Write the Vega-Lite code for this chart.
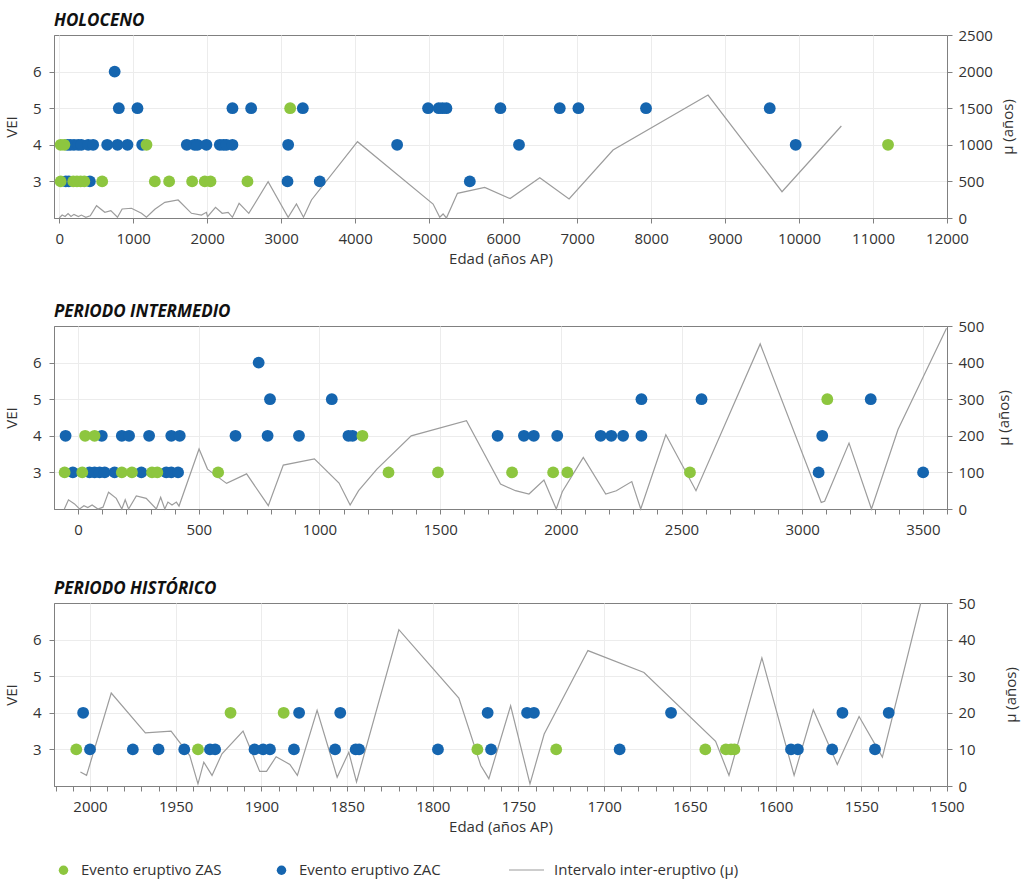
{
"$schema": "https://vega.github.io/schema/vega-lite/v6.json",
"padding": {"left": 3, "top": 11, "right": 5, "bottom": 5},
"config": {
  "font": "Open Sans",
  "view": {"stroke": "#808080", "strokeWidth": 1},
  "axis": {"labelFont": "Open Sans", "labelFontSize": 15, "labelColor": "#333333", "titleFont": "Open Sans", "titleFontSize": 15, "titleFontWeight": "normal", "titleColor": "#333333", "domainColor": "#808080", "tickColor": "#808080", "gridColor": "#ececec", "tickSize": 5, "labelPadding": 5, "labelOverlap": false, "format": "d"},
  "axisX": {"labelPadding": 8, "titlePadding": 5, "labelFlush": false},
  "title": {"font": "Open Sans", "fontSize": 17, "fontStyle": "italic", "fontWeight": "bold", "anchor": "start", "frame": "group", "color": "#111111", "offset": -1.5},
  "legend": {"labelFont": "Open Sans", "labelFontSize": 15, "labelColor": "#333333", "labelLimit": 400}
},
"datasets": {
  "h_pts": [
    {"edad": 750, "vei": 6, "tipo": "Evento eruptivo ZAC"},
    {"edad": 806, "vei": 5, "tipo": "Evento eruptivo ZAC"},
    {"edad": 1058, "vei": 5, "tipo": "Evento eruptivo ZAC"},
    {"edad": 2342, "vei": 5, "tipo": "Evento eruptivo ZAC"},
    {"edad": 2595, "vei": 5, "tipo": "Evento eruptivo ZAC"},
    {"edad": 3293, "vei": 5, "tipo": "Evento eruptivo ZAC"},
    {"edad": 4986, "vei": 5, "tipo": "Evento eruptivo ZAC"},
    {"edad": 5130, "vei": 5, "tipo": "Evento eruptivo ZAC"},
    {"edad": 5180, "vei": 5, "tipo": "Evento eruptivo ZAC"},
    {"edad": 5234, "vei": 5, "tipo": "Evento eruptivo ZAC"},
    {"edad": 5964, "vei": 5, "tipo": "Evento eruptivo ZAC"},
    {"edad": 6766, "vei": 5, "tipo": "Evento eruptivo ZAC"},
    {"edad": 7018, "vei": 5, "tipo": "Evento eruptivo ZAC"},
    {"edad": 7932, "vei": 5, "tipo": "Evento eruptivo ZAC"},
    {"edad": 9604, "vei": 5, "tipo": "Evento eruptivo ZAC"},
    {"edad": 110, "vei": 4, "tipo": "Evento eruptivo ZAC"},
    {"edad": 150, "vei": 4, "tipo": "Evento eruptivo ZAC"},
    {"edad": 200, "vei": 4, "tipo": "Evento eruptivo ZAC"},
    {"edad": 257, "vei": 4, "tipo": "Evento eruptivo ZAC"},
    {"edad": 300, "vei": 4, "tipo": "Evento eruptivo ZAC"},
    {"edad": 392, "vei": 4, "tipo": "Evento eruptivo ZAC"},
    {"edad": 459, "vei": 4, "tipo": "Evento eruptivo ZAC"},
    {"edad": 649, "vei": 4, "tipo": "Evento eruptivo ZAC"},
    {"edad": 788, "vei": 4, "tipo": "Evento eruptivo ZAC"},
    {"edad": 923, "vei": 4, "tipo": "Evento eruptivo ZAC"},
    {"edad": 1122, "vei": 4, "tipo": "Evento eruptivo ZAC"},
    {"edad": 1725, "vei": 4, "tipo": "Evento eruptivo ZAC"},
    {"edad": 1830, "vei": 4, "tipo": "Evento eruptivo ZAC"},
    {"edad": 1869, "vei": 4, "tipo": "Evento eruptivo ZAC"},
    {"edad": 1990, "vei": 4, "tipo": "Evento eruptivo ZAC"},
    {"edad": 2171, "vei": 4, "tipo": "Evento eruptivo ZAC"},
    {"edad": 2220, "vei": 4, "tipo": "Evento eruptivo ZAC"},
    {"edad": 2261, "vei": 4, "tipo": "Evento eruptivo ZAC"},
    {"edad": 2342, "vei": 4, "tipo": "Evento eruptivo ZAC"},
    {"edad": 3095, "vei": 4, "tipo": "Evento eruptivo ZAC"},
    {"edad": 4568, "vei": 4, "tipo": "Evento eruptivo ZAC"},
    {"edad": 6215, "vei": 4, "tipo": "Evento eruptivo ZAC"},
    {"edad": 9955, "vei": 4, "tipo": "Evento eruptivo ZAC"},
    {"edad": 90, "vei": 3, "tipo": "Evento eruptivo ZAC"},
    {"edad": 130, "vei": 3, "tipo": "Evento eruptivo ZAC"},
    {"edad": 415, "vei": 3, "tipo": "Evento eruptivo ZAC"},
    {"edad": 3086, "vei": 3, "tipo": "Evento eruptivo ZAC"},
    {"edad": 3522, "vei": 3, "tipo": "Evento eruptivo ZAC"},
    {"edad": 5550, "vei": 3, "tipo": "Evento eruptivo ZAC"},
    {"edad": 3122, "vei": 5, "tipo": "Evento eruptivo ZAS"},
    {"edad": 20, "vei": 4, "tipo": "Evento eruptivo ZAS"},
    {"edad": 70, "vei": 4, "tipo": "Evento eruptivo ZAS"},
    {"edad": 1180, "vei": 4, "tipo": "Evento eruptivo ZAS"},
    {"edad": 11203, "vei": 4, "tipo": "Evento eruptivo ZAS"},
    {"edad": 20, "vei": 3, "tipo": "Evento eruptivo ZAS"},
    {"edad": 190, "vei": 3, "tipo": "Evento eruptivo ZAS"},
    {"edad": 240, "vei": 3, "tipo": "Evento eruptivo ZAS"},
    {"edad": 290, "vei": 3, "tipo": "Evento eruptivo ZAS"},
    {"edad": 340, "vei": 3, "tipo": "Evento eruptivo ZAS"},
    {"edad": 581, "vei": 3, "tipo": "Evento eruptivo ZAS"},
    {"edad": 1293, "vei": 3, "tipo": "Evento eruptivo ZAS"},
    {"edad": 1486, "vei": 3, "tipo": "Evento eruptivo ZAS"},
    {"edad": 1797, "vei": 3, "tipo": "Evento eruptivo ZAS"},
    {"edad": 1968, "vei": 3, "tipo": "Evento eruptivo ZAS"},
    {"edad": 2045, "vei": 3, "tipo": "Evento eruptivo ZAS"},
    {"edad": 2545, "vei": 3, "tipo": "Evento eruptivo ZAS"}
  ],
  "h_mu": [
    {"edad": 0, "mu": 0}, {"edad": 40, "mu": 40}, {"edad": 80, "mu": 20}, {"edad": 120, "mu": 60},
    {"edad": 160, "mu": 20}, {"edad": 200, "mu": 50}, {"edad": 260, "mu": 20}, {"edad": 300, "mu": 40},
    {"edad": 360, "mu": 10}, {"edad": 420, "mu": 30}, {"edad": 505, "mu": 168}, {"edad": 617, "mu": 78},
    {"edad": 698, "mu": 100}, {"edad": 788, "mu": 10}, {"edad": 851, "mu": 123}, {"edad": 977, "mu": 133},
    {"edad": 1112, "mu": 64}, {"edad": 1180, "mu": 10}, {"edad": 1293, "mu": 119}, {"edad": 1428, "mu": 214},
    {"edad": 1608, "mu": 246}, {"edad": 1788, "mu": 64}, {"edad": 1923, "mu": 41}, {"edad": 1990, "mu": 78},
    {"edad": 2005, "mu": 18}, {"edad": 2113, "mu": 146}, {"edad": 2203, "mu": 64}, {"edad": 2284, "mu": 78},
    {"edad": 2342, "mu": 10}, {"edad": 2432, "mu": 200}, {"edad": 2563, "mu": 64}, {"edad": 2824, "mu": 496},
    {"edad": 3095, "mu": 10}, {"edad": 3207, "mu": 191}, {"edad": 3302, "mu": 10}, {"edad": 3410, "mu": 246},
    {"edad": 4032, "mu": 1042}, {"edad": 5054, "mu": 191}, {"edad": 5144, "mu": 10}, {"edad": 5189, "mu": 55},
    {"edad": 5234, "mu": 0}, {"edad": 5383, "mu": 337}, {"edad": 5752, "mu": 419}, {"edad": 6095, "mu": 265},
    {"edad": 6496, "mu": 551}, {"edad": 6892, "mu": 260}, {"edad": 7486, "mu": 929}, {"edad": 8770, "mu": 1680},
    {"edad": 9770, "mu": 359}, {"edad": 10572, "mu": 1257}
  ],
  "i_pts": [
    {"edad": 748, "vei": 6, "tipo": "Evento eruptivo ZAC"},
    {"edad": 795, "vei": 5, "tipo": "Evento eruptivo ZAC"},
    {"edad": 1051, "vei": 5, "tipo": "Evento eruptivo ZAC"},
    {"edad": 2334, "vei": 5, "tipo": "Evento eruptivo ZAC"},
    {"edad": 2583, "vei": 5, "tipo": "Evento eruptivo ZAC"},
    {"edad": 3284, "vei": 5, "tipo": "Evento eruptivo ZAC"},
    {"edad": -52, "vei": 4, "tipo": "Evento eruptivo ZAC"},
    {"edad": 98, "vei": 4, "tipo": "Evento eruptivo ZAC"},
    {"edad": 181, "vei": 4, "tipo": "Evento eruptivo ZAC"},
    {"edad": 211, "vei": 4, "tipo": "Evento eruptivo ZAC"},
    {"edad": 294, "vei": 4, "tipo": "Evento eruptivo ZAC"},
    {"edad": 386, "vei": 4, "tipo": "Evento eruptivo ZAC"},
    {"edad": 421, "vei": 4, "tipo": "Evento eruptivo ZAC"},
    {"edad": 652, "vei": 4, "tipo": "Evento eruptivo ZAC"},
    {"edad": 785, "vei": 4, "tipo": "Evento eruptivo ZAC"},
    {"edad": 915, "vei": 4, "tipo": "Evento eruptivo ZAC"},
    {"edad": 1120, "vei": 4, "tipo": "Evento eruptivo ZAC"},
    {"edad": 1137, "vei": 4, "tipo": "Evento eruptivo ZAC"},
    {"edad": 1738, "vei": 4, "tipo": "Evento eruptivo ZAC"},
    {"edad": 1847, "vei": 4, "tipo": "Evento eruptivo ZAC"},
    {"edad": 1888, "vei": 4, "tipo": "Evento eruptivo ZAC"},
    {"edad": 1985, "vei": 4, "tipo": "Evento eruptivo ZAC"},
    {"edad": 2165, "vei": 4, "tipo": "Evento eruptivo ZAC"},
    {"edad": 2209, "vei": 4, "tipo": "Evento eruptivo ZAC"},
    {"edad": 2258, "vei": 4, "tipo": "Evento eruptivo ZAC"},
    {"edad": 2334, "vei": 4, "tipo": "Evento eruptivo ZAC"},
    {"edad": 3083, "vei": 4, "tipo": "Evento eruptivo ZAC"},
    {"edad": -22, "vei": 3, "tipo": "Evento eruptivo ZAC"},
    {"edad": 47, "vei": 3, "tipo": "Evento eruptivo ZAC"},
    {"edad": 68, "vei": 3, "tipo": "Evento eruptivo ZAC"},
    {"edad": 89, "vei": 3, "tipo": "Evento eruptivo ZAC"},
    {"edad": 110, "vei": 3, "tipo": "Evento eruptivo ZAC"},
    {"edad": 151, "vei": 3, "tipo": "Evento eruptivo ZAC"},
    {"edad": 262, "vei": 3, "tipo": "Evento eruptivo ZAC"},
    {"edad": 365, "vei": 3, "tipo": "Evento eruptivo ZAC"},
    {"edad": 386, "vei": 3, "tipo": "Evento eruptivo ZAC"},
    {"edad": 414, "vei": 3, "tipo": "Evento eruptivo ZAC"},
    {"edad": 3068, "vei": 3, "tipo": "Evento eruptivo ZAC"},
    {"edad": 3501, "vei": 3, "tipo": "Evento eruptivo ZAC"},
    {"edad": 3104, "vei": 5, "tipo": "Evento eruptivo ZAS"},
    {"edad": 29, "vei": 4, "tipo": "Evento eruptivo ZAS"},
    {"edad": 68, "vei": 4, "tipo": "Evento eruptivo ZAS"},
    {"edad": 1178, "vei": 4, "tipo": "Evento eruptivo ZAS"},
    {"edad": -56, "vei": 3, "tipo": "Evento eruptivo ZAS"},
    {"edad": 17, "vei": 3, "tipo": "Evento eruptivo ZAS"},
    {"edad": 181, "vei": 3, "tipo": "Evento eruptivo ZAS"},
    {"edad": 223, "vei": 3, "tipo": "Evento eruptivo ZAS"},
    {"edad": 306, "vei": 3, "tipo": "Evento eruptivo ZAS"},
    {"edad": 328, "vei": 3, "tipo": "Evento eruptivo ZAS"},
    {"edad": 580, "vei": 3, "tipo": "Evento eruptivo ZAS"},
    {"edad": 1286, "vei": 3, "tipo": "Evento eruptivo ZAS"},
    {"edad": 1491, "vei": 3, "tipo": "Evento eruptivo ZAS"},
    {"edad": 1798, "vei": 3, "tipo": "Evento eruptivo ZAS"},
    {"edad": 1968, "vei": 3, "tipo": "Evento eruptivo ZAS"},
    {"edad": 2027, "vei": 3, "tipo": "Evento eruptivo ZAS"},
    {"edad": 2535, "vei": 3, "tipo": "Evento eruptivo ZAS"}
  ],
  "i_mu": [
    {"edad": -57, "mu": 0}, {"edad": -40, "mu": 25}, {"edad": -15, "mu": 14}, {"edad": 6, "mu": 0},
    {"edad": 24, "mu": 9}, {"edad": 40, "mu": 4}, {"edad": 58, "mu": 11}, {"edad": 82, "mu": 0},
    {"edad": 103, "mu": 5}, {"edad": 126, "mu": 46}, {"edad": 158, "mu": 29}, {"edad": 181, "mu": 0},
    {"edad": 195, "mu": 25}, {"edad": 209, "mu": 0}, {"edad": 241, "mu": 36}, {"edad": 282, "mu": 29},
    {"edad": 324, "mu": 0}, {"edad": 342, "mu": 32}, {"edad": 359, "mu": 0}, {"edad": 372, "mu": 19},
    {"edad": 389, "mu": 11}, {"edad": 407, "mu": 19}, {"edad": 418, "mu": 8}, {"edad": 501, "mu": 164},
    {"edad": 536, "mu": 109}, {"edad": 615, "mu": 70}, {"edad": 698, "mu": 96}, {"edad": 788, "mu": 9},
    {"edad": 850, "mu": 120}, {"edad": 979, "mu": 137}, {"edad": 1081, "mu": 71}, {"edad": 1127, "mu": 11},
    {"edad": 1162, "mu": 50}, {"edad": 1238, "mu": 109}, {"edad": 1380, "mu": 200}, {"edad": 1609, "mu": 241},
    {"edad": 1750, "mu": 68}, {"edad": 1812, "mu": 50}, {"edad": 1868, "mu": 41}, {"edad": 1930, "mu": 79},
    {"edad": 1981, "mu": 0}, {"edad": 2006, "mu": 47}, {"edad": 2093, "mu": 141}, {"edad": 2186, "mu": 41},
    {"edad": 2230, "mu": 50}, {"edad": 2294, "mu": 75}, {"edad": 2331, "mu": 0}, {"edad": 2435, "mu": 203},
    {"edad": 2560, "mu": 50}, {"edad": 2826, "mu": 451}, {"edad": 3079, "mu": 18}, {"edad": 3093, "mu": 21},
    {"edad": 3194, "mu": 180}, {"edad": 3287, "mu": 0}, {"edad": 3397, "mu": 217}, {"edad": 3598, "mu": 494}
  ],
  "p_pts": [
    {"edad": 2004, "vei": 4, "tipo": "Evento eruptivo ZAC"},
    {"edad": 1878, "vei": 4, "tipo": "Evento eruptivo ZAC"},
    {"edad": 1854, "vei": 4, "tipo": "Evento eruptivo ZAC"},
    {"edad": 1768, "vei": 4, "tipo": "Evento eruptivo ZAC"},
    {"edad": 1745, "vei": 4, "tipo": "Evento eruptivo ZAC"},
    {"edad": 1741, "vei": 4, "tipo": "Evento eruptivo ZAC"},
    {"edad": 1661, "vei": 4, "tipo": "Evento eruptivo ZAC"},
    {"edad": 1561, "vei": 4, "tipo": "Evento eruptivo ZAC"},
    {"edad": 1534, "vei": 4, "tipo": "Evento eruptivo ZAC"},
    {"edad": 2000, "vei": 3, "tipo": "Evento eruptivo ZAC"},
    {"edad": 1975, "vei": 3, "tipo": "Evento eruptivo ZAC"},
    {"edad": 1960, "vei": 3, "tipo": "Evento eruptivo ZAC"},
    {"edad": 1945, "vei": 3, "tipo": "Evento eruptivo ZAC"},
    {"edad": 1930, "vei": 3, "tipo": "Evento eruptivo ZAC"},
    {"edad": 1927, "vei": 3, "tipo": "Evento eruptivo ZAC"},
    {"edad": 1904, "vei": 3, "tipo": "Evento eruptivo ZAC"},
    {"edad": 1899, "vei": 3, "tipo": "Evento eruptivo ZAC"},
    {"edad": 1895, "vei": 3, "tipo": "Evento eruptivo ZAC"},
    {"edad": 1881, "vei": 3, "tipo": "Evento eruptivo ZAC"},
    {"edad": 1857, "vei": 3, "tipo": "Evento eruptivo ZAC"},
    {"edad": 1845, "vei": 3, "tipo": "Evento eruptivo ZAC"},
    {"edad": 1843, "vei": 3, "tipo": "Evento eruptivo ZAC"},
    {"edad": 1797, "vei": 3, "tipo": "Evento eruptivo ZAC"},
    {"edad": 1766, "vei": 3, "tipo": "Evento eruptivo ZAC"},
    {"edad": 1691, "vei": 3, "tipo": "Evento eruptivo ZAC"},
    {"edad": 1591, "vei": 3, "tipo": "Evento eruptivo ZAC"},
    {"edad": 1587, "vei": 3, "tipo": "Evento eruptivo ZAC"},
    {"edad": 1567, "vei": 3, "tipo": "Evento eruptivo ZAC"},
    {"edad": 1542, "vei": 3, "tipo": "Evento eruptivo ZAC"},
    {"edad": 1918, "vei": 4, "tipo": "Evento eruptivo ZAS"},
    {"edad": 1887, "vei": 4, "tipo": "Evento eruptivo ZAS"},
    {"edad": 2008, "vei": 3, "tipo": "Evento eruptivo ZAS"},
    {"edad": 1937, "vei": 3, "tipo": "Evento eruptivo ZAS"},
    {"edad": 1774, "vei": 3, "tipo": "Evento eruptivo ZAS"},
    {"edad": 1728, "vei": 3, "tipo": "Evento eruptivo ZAS"},
    {"edad": 1641, "vei": 3, "tipo": "Evento eruptivo ZAS"},
    {"edad": 1629, "vei": 3, "tipo": "Evento eruptivo ZAS"},
    {"edad": 1626, "vei": 3, "tipo": "Evento eruptivo ZAS"},
    {"edad": 1624, "vei": 3, "tipo": "Evento eruptivo ZAS"}
  ],
  "p_mu": [
    {"edad": 2005.6, "mu": 3.8}, {"edad": 2002, "mu": 2.9}, {"edad": 1987.6, "mu": 25.4}, {"edad": 1967.7, "mu": 14.5},
    {"edad": 1952.7, "mu": 15}, {"edad": 1941.8, "mu": 8.3}, {"edad": 1937, "mu": 0.6}, {"edad": 1933.6, "mu": 6.5},
    {"edad": 1928.8, "mu": 2.9}, {"edad": 1923, "mu": 8.8}, {"edad": 1910.7, "mu": 15}, {"edad": 1901, "mu": 4},
    {"edad": 1897, "mu": 4}, {"edad": 1891.4, "mu": 8}, {"edad": 1883.4, "mu": 5.9}, {"edad": 1879, "mu": 2.9},
    {"edad": 1867.5, "mu": 20.7}, {"edad": 1855.8, "mu": 2.4}, {"edad": 1849, "mu": 9.2}, {"edad": 1844.5, "mu": 1.1},
    {"edad": 1819.8, "mu": 42.7}, {"edad": 1784.8, "mu": 24}, {"edad": 1772, "mu": 5.6}, {"edad": 1767.3, "mu": 2},
    {"edad": 1754.6, "mu": 21.9}, {"edad": 1743.3, "mu": 0.6}, {"edad": 1735, "mu": 14.2}, {"edad": 1709.5, "mu": 37},
    {"edad": 1676.8, "mu": 31}, {"edad": 1635, "mu": 12.2}, {"edad": 1627.2, "mu": 2.9}, {"edad": 1608, "mu": 35},
    {"edad": 1589.2, "mu": 2.9}, {"edad": 1578, "mu": 20.8}, {"edad": 1564, "mu": 5.9}, {"edad": 1551.3, "mu": 19},
    {"edad": 1537.7, "mu": 7.9}, {"edad": 1515.3, "mu": 50}
  ]
},
"spacing": 35,
"vconcat": [
  {
    "title": {"text": "HOLOCENO"},
    "width": 893, "height": 183,
    "resolve": {"scale": {"y": "independent"}},
    "layer": [
      {
        "data": {"name": "h_mu"},
        "mark": {"type": "line", "strokeWidth": 1.2},
        "encoding": {
          "x": {"field": "edad", "type": "quantitative", "scale": {"domain": [-70, 12000], "nice": false, "zero": false},
                "axis": {"title": "Edad (años AP)", "values": [0,1000,2000,3000,4000,5000,6000,7000,8000,9000,10000,11000,12000], "tickCount": 200, "format": "d", "grid": true}},
          "y": {"field": "mu", "type": "quantitative", "scale": {"domain": [0, 2500], "nice": false},
                "axis": {"orient": "right", "title": "μ (años)", "titleAngle": 270, "titleBaseline": "top", "values": [0,500,1000,1500,2000,2500], "tickCount": 200, "format": "d", "grid": false, "labelPadding": 6, "titlePadding": 8}},
          "stroke": {"datum": "Intervalo inter-eruptivo (μ)", "type": "nominal", "scale": {"domain": ["Intervalo inter-eruptivo (μ)"], "range": ["#9c9c9c"]},
                     "legend": {"orient": "none", "legendX": 454, "legendY": 816.5, "title": null, "symbolType": "stroke", "symbolSize": 1225, "symbolStrokeWidth": 1.2, "labelOffset": 9}}
        }
      },
      {
        "data": {"name": "h_pts"},
        "mark": {"type": "circle", "size": 140, "opacity": 1},
        "encoding": {
          "x": {"field": "edad", "type": "quantitative", "scale": {"domain": [-70, 12000], "nice": false, "zero": false}},
          "y": {"field": "vei", "type": "quantitative", "scale": {"domain": [2, 7], "nice": false, "zero": false},
                "axis": {"orient": "left", "title": "VEI", "values": [3,4,5,6], "tickCount": 200, "format": "d", "grid": true, "labelPadding": 8, "titlePadding": 13}},
          "color": {"field": "tipo", "type": "nominal", "scale": {"domain": ["Evento eruptivo ZAS", "Evento eruptivo ZAC"], "range": ["#8dc63f", "#1565af"]},
                    "legend": {"orient": "none", "legendX": 2, "legendY": 827.5, "direction": "horizontal", "title": null, "symbolType": "circle", "symbolSize": 90, "columnPadding": 52, "labelOffset": 10}}
        }
      }
    ]
  },
  {
    "spacing": 41,
    "vconcat": [
      {
        "title": {"text": "PERIODO INTERMEDIO"},
        "width": 893, "height": 183,
        "resolve": {"scale": {"y": "independent"}},
        "layer": [
          {
            "data": {"name": "i_mu"},
            "mark": {"type": "line", "strokeWidth": 1.2},
            "encoding": {
              "x": {"field": "edad", "type": "quantitative", "scale": {"domain": [-100, 3600], "nice": false, "zero": false},
                    "axis": {"title": null, "values": [0,100,200,300,400,500,600,700,800,900,1000,1100,1200,1300,1400,1500,1600,1700,1800,1900,2000,2100,2200,2300,2400,2500,2600,2700,2800,2900,3000,3100,3200,3300,3400,3500,3600], "tickCount": 200, "format": "d",
                             "labelExpr": "datum.value % 500 === 0 ? datum.label : ''", "grid": true,
                             "gridOpacity": {"condition": {"test": "datum.value % 500 !== 0", "value": 0}, "value": 1}}},
              "y": {"field": "mu", "type": "quantitative", "scale": {"domain": [0, 500], "nice": false},
                    "axis": {"orient": "right", "title": "μ (años)", "titleAngle": 270, "titleBaseline": "top", "values": [0,100,200,300,400,500], "tickCount": 200, "format": "d", "grid": false, "labelPadding": 6, "titlePadding": 13}},
              "stroke": {"datum": "Intervalo inter-eruptivo (μ)", "type": "nominal", "scale": {"domain": ["Intervalo inter-eruptivo (μ)"], "range": ["#9c9c9c"]}}
            }
          },
          {
            "data": {"name": "i_pts"},
            "mark": {"type": "circle", "size": 140, "opacity": 1},
            "encoding": {
              "x": {"field": "edad", "type": "quantitative", "scale": {"domain": [-100, 3600], "nice": false, "zero": false}},
              "y": {"field": "vei", "type": "quantitative", "scale": {"domain": [2, 7], "nice": false, "zero": false},
                    "axis": {"orient": "left", "title": "VEI", "values": [3,4,5,6], "tickCount": 200, "format": "d", "grid": true, "labelPadding": 8, "titlePadding": 13}},
              "color": {"field": "tipo", "type": "nominal", "scale": {"domain": ["Evento eruptivo ZAS", "Evento eruptivo ZAC"], "range": ["#8dc63f", "#1565af"]}}
            }
          }
        ]
      },
      {
        "title": {"text": "PERIODO HISTÓRICO"},
        "width": 893, "height": 183,
        "resolve": {"scale": {"y": "independent"}},
        "layer": [
          {
            "data": {"name": "p_mu"},
            "mark": {"type": "line", "strokeWidth": 1.2, "clip": true},
            "encoding": {
              "x": {"field": "edad", "type": "quantitative", "scale": {"domain": [1500, 2021], "reverse": true, "nice": false, "zero": false},
                    "axis": {"title": "Edad (años AP)", "values": [1500,1510,1520,1530,1540,1550,1560,1570,1580,1590,1600,1610,1620,1630,1640,1650,1660,1670,1680,1690,1700,1710,1720,1730,1740,1750,1760,1770,1780,1790,1800,1810,1820,1830,1840,1850,1860,1870,1880,1890,1900,1910,1920,1930,1940,1950,1960,1970,1980,1990,2000,2010,2020], "tickCount": 200, "format": "d",
                             "labelExpr": "datum.value % 50 === 0 ? datum.label : ''", "grid": true,
                             "gridOpacity": {"condition": {"test": "datum.value % 50 !== 0", "value": 0}, "value": 1}}},
              "y": {"field": "mu", "type": "quantitative", "scale": {"domain": [0, 50], "nice": false},
                    "axis": {"orient": "right", "title": "μ (años)", "titleAngle": 270, "titleBaseline": "top", "values": [0,10,20,30,40,50], "tickCount": 200, "format": "d", "grid": false, "labelPadding": 6, "titlePadding": 28}},
              "stroke": {"datum": "Intervalo inter-eruptivo (μ)", "type": "nominal", "scale": {"domain": ["Intervalo inter-eruptivo (μ)"], "range": ["#9c9c9c"]}}
            }
          },
          {
            "data": {"name": "p_pts"},
            "mark": {"type": "circle", "size": 140, "opacity": 1},
            "encoding": {
              "x": {"field": "edad", "type": "quantitative", "scale": {"domain": [1500, 2021], "reverse": true, "nice": false, "zero": false}},
              "y": {"field": "vei", "type": "quantitative", "scale": {"domain": [2, 7], "nice": false, "zero": false},
                    "axis": {"orient": "left", "title": "VEI", "values": [3,4,5,6], "tickCount": 200, "format": "d", "grid": true, "labelPadding": 8, "titlePadding": 13}},
              "color": {"field": "tipo", "type": "nominal", "scale": {"domain": ["Evento eruptivo ZAS", "Evento eruptivo ZAC"], "range": ["#8dc63f", "#1565af"]}}
            }
          }
        ]
      }
    ]
  }
]
}
